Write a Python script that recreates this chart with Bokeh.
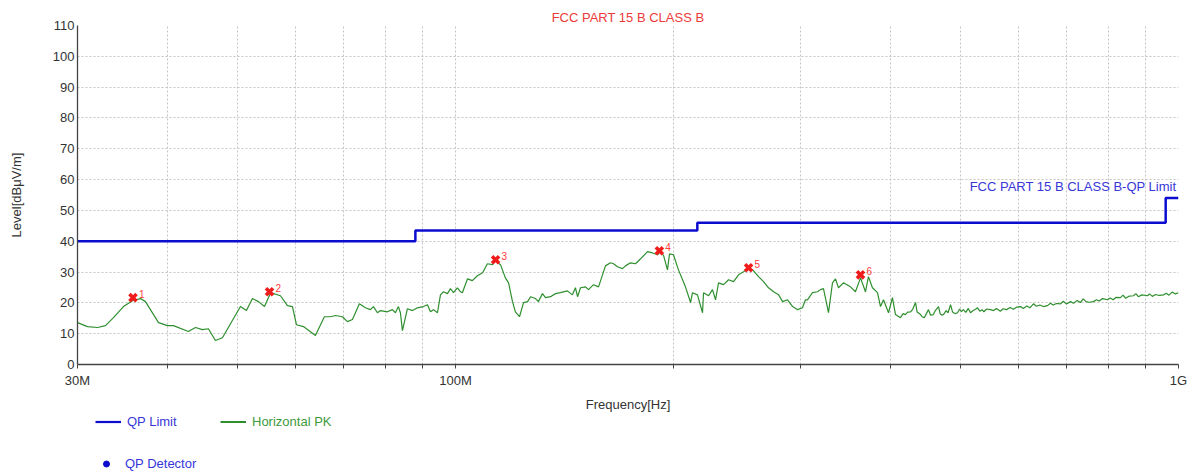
from bokeh.plotting import figure
from bokeh.layouts import column
from bokeh.models import FixedTicker, Label, Legend, LegendItem, Range1d
from bokeh.embed import file_html
from bokeh.resources import INLINE
from bokeh.core.properties import value

FONT = "Liberation Sans"
NAN = float("nan")

# ---------------- data ----------------
# QP limit (FCC Part 15 B Class B) : start frequency [MHz] and level [dBuV/m]
limit_freq = [30, 88, 216, 960, 1000]
limit_level = [40, 43.5, 46, 54, 54]

# Horizontal PK trace
pk_freq = [
    30.0, 30.97, 31.97, 32.8, 33.64, 34.73, 35.74, 36.67, 37.25, 38.83,
    39.95, 40.72, 42.71, 43.68, 44.66, 45.52, 46.55, 47.6, 50.41, 51.38,
    52.37, 53.39, 54.42, 55.5, 57.26, 58.55, 59.49, 60.25, 61.61, 64.0,
    65.86, 67.14, 68.22, 69.75, 70.87, 72.01, 73.63, 75.05, 76.26, 76.99,
    77.98, 78.73, 80.5, 81.79, 82.58, 83.37, 83.9, 84.44, 85.8, 87.18,
    88.58, 90.29, 91.45, 92.32, 93.21, 94.41, 95.31, 96.23, 97.46, 98.4,
    99.34, 100.6, 101.6, 102.2, 103.9, 105.5, 107.2, 109.0, 110.7, 112.5,
    113.6, 115.4, 117.2, 118.4, 119.9, 121.0, 122.6, 124.2, 125.8, 127.0,
    129.0, 130.2, 131.9, 133.2, 135.3, 137.5, 139.7, 142.8, 145.1, 146.5,
    147.5, 148.9, 151.3, 152.7, 155.2, 157.7, 161.2, 163.8, 165.4, 167.5,
    170.2, 171.8, 174.6, 177.4, 180.3, 184.3, 187.3, 190.3, 192.1, 194.0,
    196.4, 197.7, 200.2, 203.4, 208.0, 211.4, 212.7, 216.1, 219.6, 220.3,
    223.9, 226.7, 228.9, 231.1, 234.8, 238.6, 242.4, 246.3, 250.3, 254.3,
    258.4, 262.5, 266.7, 271.0, 275.4, 279.8, 283.4, 287.9, 292.6, 297.3,
    301.9, 304.8, 306.8, 311.7, 316.7, 319.7, 322.8, 328.0, 332.2, 335.4,
    338.6, 344.0, 351.8, 357.4, 363.2, 369.0, 372.5, 377.3, 383.4, 387.1,
    390.8, 397.1, 402.1, 406.0, 412.5, 416, 419, 422, 426, 429,
    432.8, 435, 439.7, 442, 445, 448, 451, 454, 458, 461,
    465.7, 468, 471, 473, 477, 480, 483.8, 487, 491, 494.7,
    498, 501, 504, 508, 512, 515.6, 520, 524, 527.2, 531,
    535, 538, 543, 549.5, 555, 560, 567, 572, 578, 585,
    591, 597, 604.6, 610, 617, 623, 630, 636, 643, 650,
    658.9, 665, 671, 678, 686.8, 693, 700, 709, 716, 724,
    731.9, 738, 745, 752, 762.8, 770, 777, 785, 797.6, 804,
    812, 820, 831.3, 838, 845, 855, 866.5, 873, 880, 890,
    905.9, 912, 920, 930, 940, 953.2, 962, 970, 980, 990,
    1000,
]
pk_level = [
    13.6, 12.3, 12.0, 12.6, 15.2, 18.8, 20.7, 21.4, 20.4, 13.6,
    12.6, 12.6, 10.7, 12.0, 11.3, 11.6, 7.8, 8.7, 18.8, 17.5,
    21.4, 20.4, 18.8, 23.3, 22.3, 19.1, 18.8, 12.9, 12.3, 9.4,
    15.5, 15.5, 15.9, 15.5, 13.9, 14.6, 19.7, 18.4, 17.8, 18.8,
    16.8, 17.5, 17.1, 17.8, 16.8, 18.8, 16.8, 11.0, 18.1, 17.5,
    18.4, 18.8, 19.4, 17.1, 17.8, 16.8, 22.6, 23.6, 23.0, 24.6,
    23.3, 24.9, 23.6, 23.3, 27.8, 27.2, 28.8, 29.8, 32.7, 32.4,
    33.6, 32.4, 28.1, 26.5, 20.4, 17.1, 15.5, 20.1, 20.4, 22.0,
    21.4, 20.4, 23.0, 21.7, 22.0, 23.0, 23.3, 23.9, 22.6, 24.9,
    22.0, 24.9, 25.2, 24.3, 25.9, 25.2, 32.0, 33.0, 32.7, 31.7,
    31.1, 32.0, 33.0, 32.7, 34.3, 36.6, 36.2, 35.6, 36.9, 35.3,
    30.7, 35.9, 35.6, 30.7, 25.2, 20.1, 23.3, 22.6, 16.8, 23.3,
    22.3, 24.3, 21.0, 26.5, 25.9, 27.5, 26.9, 29.1, 30.1, 31.4,
    30.4, 28.5, 26.9, 24.9, 23.6, 22.6, 20.4, 21.0, 18.8, 17.8,
    18.4, 21.0, 21.0, 23.3, 23.6, 24.3, 24.6, 16.8, 26.5, 27.8,
    24.9, 26.5, 25.2, 23.6, 28.1, 23.6, 28.5, 24.9, 23.3, 18.8,
    21.0, 16.8, 21.7, 16.2, 15.2, 16.5, 16.2, 17.0, 17.1, 18.0,
    20.1, 17.0, 16.2, 15.5, 15.2, 16.5, 17.8, 16.0, 16.2, 17.5,
    18.8, 16.5, 16.0, 16.2, 17.5, 16.8, 19.4, 17.0, 16.5, 16.8,
    18.0, 17.2, 17.8, 16.9, 18.2, 16.8, 17.5, 17.9, 18.4, 17.3,
    17.8, 17.1, 18.0, 17.8, 17.5, 18.2, 17.3, 18.1, 17.8, 18.5,
    17.9, 18.6, 18.8, 18.2, 19.0, 18.4, 19.7, 18.9, 19.3, 18.8,
    19.1, 19.9, 19.3, 19.8, 19.7, 20.5, 19.6, 20.4, 19.9, 20.8,
    20.1, 21.3, 20.4, 20.2, 20.4, 21.0, 20.6, 21.4, 21.0, 21.6,
    21.0, 21.8, 21.7, 22.5, 21.5, 22.2, 22.3, 23.0, 22.0, 22.6,
    22.3, 22.9, 22.1, 22.7, 22.4, 22.6, 23.1, 22.5, 23.5, 22.9,
    23.3,
]

# Final QP markers
marker_freq = [35.8, 55.3, 113.6, 191.4, 254.3, 363.2]
marker_level = [21.7, 23.6, 34.0, 36.9, 31.4, 29.1]
marker_label = ["1", "2", "3", "4", "5", "6"]

x_ticks = [30, 40, 50, 60, 70, 80, 90, 100, 200, 300, 400, 500, 600, 700, 800, 900, 1000]
x_tick_labels = {30: "30M", 100: "100M", 1000: "1G"}
y_ticks = [0, 10, 20, 30, 40, 50, 60, 70, 80, 90, 100, 110]

title_text = "FCC PART 15 B CLASS B"
limit_text = "FCC PART 15 B CLASS B-QP Limit"
legend_labels = ["QP Limit", "Horizontal PK", "QP Detector"]

# ---------------- colors ----------------
BLUE = "#0c0cd0"
BLUE_TXT = "#3737d8"
GREEN = "#2f8f2f"
GREEN_TXT = "#3d9a3d"
RED = "#f01c1c"
AXIS = "#444444"
GRID = "#c4c4c4"

W = 1187

# ---------------- main figure ----------------
p = figure(width=W, height=414, x_axis_type="log",
           x_range=Range1d(30, 1000), y_range=Range1d(0, 110),
           output_backend="svg", toolbar_location=None,
           min_border_left=77, min_border_right=9,
           min_border_top=25, min_border_bottom=49)
p.outline_line_color = None
p.background_fill_color = "white"
p.border_fill_color = "white"

p.title.text = title_text
p.title.align = "center"
p.title.text_color = "#ec3a3a"
p.title.text_font = FONT
p.title.text_font_size = "13px"
p.title.text_font_style = "normal"
p.title.standoff = 1

# axes
p.xaxis.ticker = FixedTicker(ticks=x_ticks)
p.xaxis.major_label_overrides = {t: x_tick_labels.get(t, "") for t in x_ticks}
p.xaxis.minor_tick_line_color = None
p.xaxis.major_tick_out = 4
p.xaxis.major_tick_in = 0
p.xaxis.major_label_standoff = 4
p.xaxis.axis_label = "Frequency[Hz]"
p.xaxis.axis_label_standoff = 6
p.xaxis.axis_label_text_line_height = 1.0
p.xaxis.major_label_text_line_height = 1.0

p.yaxis.ticker = FixedTicker(ticks=y_ticks)
p.yaxis.minor_tick_line_color = None
p.yaxis.major_tick_out = 0
p.yaxis.major_tick_in = 0
p.yaxis.major_label_standoff = 3
p.yaxis.axis_label = "Level[dB\u03bcV/m]"
p.yaxis.axis_label_standoff = 26

for ax in (p.xaxis, p.yaxis):
    ax.axis_line_color = AXIS
    ax.axis_line_width = 1.3
    ax.major_tick_line_color = AXIS
    ax.major_label_text_font = FONT
    ax.major_label_text_font_size = "13px"
    ax.major_label_text_color = "#333333"
    ax.axis_label_text_font = FONT
    ax.axis_label_text_font_size = "13px"
    ax.axis_label_text_font_style = "normal"
    ax.axis_label_text_color = "#333333"

for g in (p.xgrid, p.ygrid):
    g.grid_line_color = GRID
    g.grid_line_dash = "2 2"
    g.grid_line_width = 1

# data renderers
p.step(limit_freq, limit_level, mode="after", line_color=BLUE, line_width=2.5)
p.line(pk_freq, pk_level, line_color=GREEN, line_width=1.2)

p.scatter(marker_freq, marker_level, marker="x", size=10, line_width=3.6, line_color=RED)
p.text(marker_freq, marker_level, text=marker_label, x_offset=6, y_offset=-4,
       text_baseline="alphabetic", text_align="left", text_color="#ff3b3b",
       text_font=value(FONT), text_font_size="10px")

p.add_layout(Label(x=1000, y=57.9, x_offset=-2, text=limit_text, text_align="right",
                   text_baseline="middle", text_color=BLUE_TXT, text_font=FONT,
                   text_font_size="13px"))

# ---------------- legend strip ----------------
lf = figure(width=W, height=59, x_range=Range1d(0, 1), y_range=Range1d(0, 1),
            output_backend="svg", toolbar_location=None, min_border=0,
            x_axis_location=None, y_axis_location=None)
lf.outline_line_color = None
lf.grid.visible = False
lf.background_fill_color = "white"
lf.border_fill_color = "white"

# placeholder renderers (no visible data) that only carry the legend styles
leg_lim = lf.line([NAN], [NAN], line_color=BLUE, line_width=2.2)
leg_pk = lf.line([NAN], [NAN], line_color=GREEN, line_width=2.0)
leg_qp = lf.scatter([NAN], [NAN], marker="circle", size=7, fill_color=BLUE, line_color=BLUE)


def make_legend(label, rend, loc, color):
    lg = Legend(items=[LegendItem(label=label, renderers=[rend])], location=loc,
                orientation="horizontal", padding=0, margin=0, spacing=0,
                glyph_width=26, glyph_height=15, label_height=15, label_standoff=6,
                label_text_font=FONT, label_text_font_size="13px",
                label_text_color=color, border_line_color=None,
                background_fill_alpha=0)
    lf.add_layout(lg, "center")


make_legend(legend_labels[0], leg_lim, (18, 44), BLUE_TXT)
make_legend(legend_labels[1], leg_pk, (143, 44), GREEN_TXT)
make_legend(legend_labels[2], leg_qp, (16, 2), BLUE_TXT)

layout = column(p, lf, spacing=0)
open("out.html", "w").write(file_html(layout, INLINE))
